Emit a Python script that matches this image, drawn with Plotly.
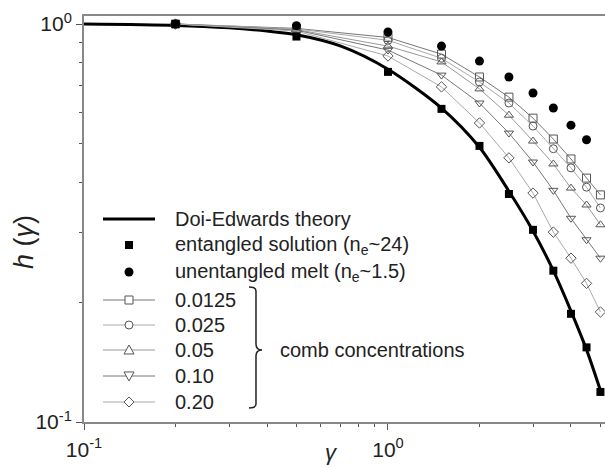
import plotly.graph_objects as go

# ---------------- data ----------------
gamma_de = [0.1, 0.2, 0.3, 0.4, 0.5, 0.7, 1.0, 1.5, 2.0, 2.5, 3.0, 3.5, 4.0, 4.5, 5.0]
h_de = [1.0, 0.992, 0.978, 0.96, 0.94, 0.88, 0.77, 0.615, 0.49, 0.38, 0.302, 0.24, 0.19, 0.152, 0.12]

gamma_sol = [0.2, 0.5, 1.0, 1.5, 2.0, 2.5, 3.0, 3.5, 4.0, 4.5, 5.0]
h_sol = [1.0, 0.93, 0.758, 0.612, 0.494, 0.374, 0.304, 0.24, 0.187, 0.154, 0.119]

gamma_melt = [0.2, 0.5, 1.0, 1.5, 2.0, 2.5, 3.0, 3.5, 4.0, 4.5]
h_melt = [1.0, 0.99, 0.955, 0.88, 0.807, 0.736, 0.671, 0.615, 0.557, 0.512]

gamma_comb = [0.2, 0.5, 1.0, 1.5, 2.0, 2.5, 3.0, 3.5, 4.0, 4.5, 5.0]
h_c0125 = [1.0, 0.975, 0.925, 0.84, 0.736, 0.655, 0.58, 0.514, 0.458, 0.41, 0.372]
h_c025 = [1.0, 0.972, 0.91, 0.82, 0.715, 0.633, 0.554, 0.486, 0.435, 0.389, 0.345]
h_c05 = [1.0, 0.968, 0.88, 0.803, 0.687, 0.59, 0.508, 0.445, 0.387, 0.351, 0.313]
h_c10 = [1.0, 0.965, 0.86, 0.744, 0.633, 0.532, 0.45, 0.382, 0.325, 0.287, 0.258]
h_c20 = [1.0, 0.96, 0.831, 0.695, 0.564, 0.461, 0.376, 0.30, 0.258, 0.223, 0.189]

comb_labels = ["0.0125", "0.025", "0.05", "0.10", "0.20"]
comb_values = [h_c0125, h_c025, h_c05, h_c10, h_c20]
comb_symbols = ["square-open", "circle-open", "triangle-up-open", "triangle-down-open", "diamond-open"]
comb_linecolors = ["#777777", "#aaaaaa", "#999999", "#777777", "#aaaaaa"]

x_major = [0.1, 1]
x_major_text = ["10<sup>-1</sup>", "10<sup>0</sup>"]
x_minor = [0.2, 0.3, 0.4, 0.5, 0.6, 0.7, 0.8, 0.9, 2, 3, 4, 5]
y_major = [0.1, 1]
y_major_text = ["10<sup>-1</sup>", "10<sup>0</sup>"]
y_minor = [0.2, 0.3, 0.4, 0.5, 0.6, 0.7, 0.8, 0.9]

FONT = "Liberation Sans, Arial, sans-serif"
TXT = "#222222"
MK = "#555555"

fig = go.Figure()

fig.add_trace(go.Scatter(
    x=gamma_de, y=h_de, mode="lines", name="Doi-Edwards theory",
    line=dict(color="black", width=3, shape="spline", smoothing=0.8)))

for lab, vals, sym, lc in zip(comb_labels, comb_values, comb_symbols, comb_linecolors):
    fig.add_trace(go.Scatter(
        x=gamma_comb, y=vals, mode="lines+markers", name=lab,
        line=dict(color=lc, width=1),
        marker=dict(symbol=sym, size=8, color=MK, line=dict(color=MK, width=1))))

fig.add_trace(go.Scatter(
    x=gamma_sol, y=h_sol, mode="markers", name="entangled solution (n<sub>e</sub>~24)",
    marker=dict(symbol="square", size=8, color="black")))
fig.add_trace(go.Scatter(
    x=gamma_melt, y=h_melt, mode="markers", name="unentangled melt (n<sub>e</sub>~1.5)",
    marker=dict(symbol="circle", size=9, color="black")))

L, T, R, B = 84, 16, 0, 46
W, H = 605, 468
pw, ph = W - L - R, H - T - B


def X(px):
    return (px - L) / pw


def Y(py):
    return (H - B - py) / ph


shapes = []
annots = []

# ---- manual legend ----
SX0, SX1, SXC, TX = 103, 155, 129, 173
rows = [219, 245, 272, 300, 325, 350, 376, 402]
legend_names = ["Doi-Edwards theory",
                "entangled solution (n<sub>e</sub>~24)",
                "unentangled melt (n<sub>e</sub>~1.5)"] + comb_labels
for name, ry in zip(legend_names, rows):
    annots.append(dict(x=X(TX), y=Y(ry), xref="paper", yref="paper", text=name,
                       showarrow=False, xanchor="left", yanchor="middle",
                       font=dict(family=FONT, size=20, color=TXT)))

# Doi-Edwards sample line
shapes.append(dict(type="line", xref="paper", yref="paper", x0=X(SX0), x1=X(SX1),
                   y0=Y(rows[0]), y1=Y(rows[0]), line=dict(color="black", width=3)))
# filled square
r = 4
shapes.append(dict(type="rect", xref="paper", yref="paper", x0=X(SXC - r), x1=X(SXC + r),
                   y0=Y(rows[1] - r), y1=Y(rows[1] + r), fillcolor="black",
                   line=dict(color="black", width=0)))
# filled circle
r = 4.5
shapes.append(dict(type="circle", xref="paper", yref="paper", x0=X(SXC - r), x1=X(SXC + r),
                   y0=Y(rows[2] - r), y1=Y(rows[2] + r), fillcolor="black",
                   line=dict(color="black", width=0)))


def poly(pts):
    return "M " + " L ".join("%.4f,%.4f" % (X(a), Y(b)) for a, b in pts) + " Z"


for i, (lc, ry) in enumerate(zip(comb_linecolors, rows[3:])):
    shapes.append(dict(type="line", xref="paper", yref="paper", x0=X(SX0), x1=X(SX1),
                       y0=Y(ry), y1=Y(ry), line=dict(color=lc, width=1)))
    mk = dict(xref="paper", yref="paper", fillcolor="white", line=dict(color=MK, width=1))
    r = 4
    if i == 0:
        shapes.append(dict(type="rect", x0=X(SXC - r), x1=X(SXC + r), y0=Y(ry - r), y1=Y(ry + r), **mk))
    elif i == 1:
        shapes.append(dict(type="circle", x0=X(SXC - r), x1=X(SXC + r), y0=Y(ry - r), y1=Y(ry + r), **mk))
    elif i == 2:
        shapes.append(dict(type="path", path=poly([(SXC, ry - 5), (SXC + 5, ry + 4), (SXC - 5, ry + 4)]), **mk))
    elif i == 3:
        shapes.append(dict(type="path", path=poly([(SXC, ry + 5), (SXC + 5, ry - 4), (SXC - 5, ry - 4)]), **mk))
    else:
        shapes.append(dict(type="path", path=poly([(SXC, ry - 5), (SXC + 5, ry), (SXC, ry + 5), (SXC - 5, ry)]), **mk))

# brace
bp = [(249, 287), (256, 291), (256, 344), (262, 350), (256, 356), (256, 404), (249, 408)]
q = [(X(a), Y(b)) for a, b in bp]
path = ("M %.4f,%.4f Q %.4f,%.4f %.4f,%.4f L %.4f,%.4f Q %.4f,%.4f %.4f,%.4f "
        "Q %.4f,%.4f %.4f,%.4f L %.4f,%.4f Q %.4f,%.4f %.4f,%.4f") % (
    q[0][0], q[0][1], q[1][0], q[0][1], q[1][0], q[1][1],
    q[2][0], q[2][1],
    q[2][0], q[3][1], q[3][0], q[3][1],
    q[4][0], q[3][1], q[4][0], q[4][1],
    q[5][0], q[5][1],
    q[5][0], q[6][1], q[6][0], q[6][1])
shapes.append(dict(type="path", path=path, xref="paper", yref="paper",
                   line=dict(color="#222222", width=1.5)))

annots.append(dict(x=X(278), y=Y(350), xref="paper", yref="paper", text="comb concentrations",
                   showarrow=False, xanchor="left", yanchor="middle",
                   font=dict(family=FONT, size=20, color=TXT)))

# axis titles
annots.append(dict(x=X(24), y=Y(242), xref="paper", yref="paper", text="<i>h</i> (<i>γ</i>)",
                   showarrow=False, textangle=-90, xanchor="center", yanchor="middle",
                   font=dict(family=FONT, size=27, color=TXT)))
annots.append(dict(x=X(331), y=Y(452), xref="paper", yref="paper", text="<i>γ</i>",
                   showarrow=False, xanchor="center", yanchor="middle",
                   font=dict(family=FONT, size=22, color=TXT)))

fig.update_layout(
    width=W, height=H,
    margin=dict(l=L, r=R, t=T, b=B),
    paper_bgcolor="white", plot_bgcolor="white",
    font=dict(family=FONT, size=20, color=TXT),
    showlegend=False,
    shapes=shapes, annotations=annots,
    xaxis=dict(type="log", range=[-1, 0.714], showgrid=False, zeroline=False,
               showline=True, linecolor="#888888", linewidth=2, mirror=True,
               tickvals=x_major, ticktext=x_major_text, ticks="outside", ticklen=6,
               tickcolor="#555555", tickwidth=1, tickfont=dict(size=21),
               ticklabelstandoff=2,
               minor=dict(tickvals=x_minor, ticks="outside", ticklen=3, tickcolor="#555555")),
    yaxis=dict(type="log", range=[-1, 0.0201], showgrid=False, zeroline=False,
               showline=True, linecolor="#888888", linewidth=2,
               tickvals=y_major, ticktext=y_major_text, ticks="outside", ticklen=6,
               tickcolor="#555555", tickwidth=1, tickfont=dict(size=21),
               minor=dict(tickvals=y_minor, ticks="outside", ticklen=3, tickcolor="#555555")),
)

fig.write_html("out.html")
